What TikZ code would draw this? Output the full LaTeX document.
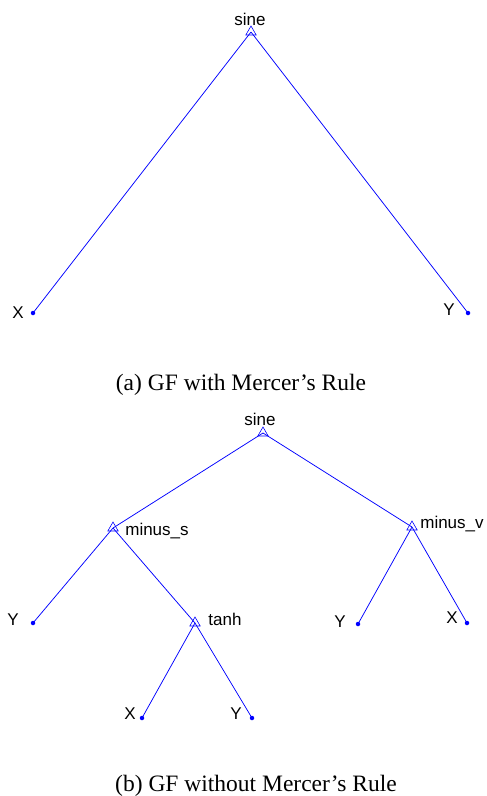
\documentclass[tikz,border=0pt]{standalone}
\usepackage{fontspec}
\setmainfont{Liberation Serif}
\setsansfont{Liberation Sans}
\usetikzlibrary{shapes.geometric}
\tikzset{
  op/.style={regular polygon, regular polygon sides=3, draw=blue, line width=0.6pt, inner sep=0pt, minimum size=12pt},
  leaf/.style={circle, fill=blue, inner sep=0pt, minimum size=4.5pt},
  branch/.style={blue, line width=0.75pt},
  lab/.style={font=\sffamily\fontsize{17}{17}\selectfont, inner sep=0pt},
  capt/.style={font=\fontsize{23.5}{24}\selectfont, inner sep=0pt}
}
\begin{document}
\begin{tikzpicture}[x=1pt, y=-1pt]
    \useasboundingbox (0,0) rectangle (487,796);
    % (a) GP tree with Mercer's rule
    \node[op] (a0) at (251,32) {};
    \node[leaf] (ax) at (33,313) {};
    \node[leaf] (ay) at (468,313) {};
    \foreach \u/\v in {a0/ax, a0/ay} {
        \draw[branch] (\u.center) -- (\v.center);
    }
    \node[lab] (a0lab) at (250,19) {sine};
    \node[lab] (axlab) at (18,313) {X};
    \node[lab] (aylab) at (449,310) {Y};
    \node[capt] (capa) at (241,385) {(a) GF with Mercer's Rule};
    % (b) GP tree without Mercer's rule
    \node[op] (b0) at (263,433) {};
    \node[op] (bs) at (113,528) {};
    \node[op] (bv) at (412,527) {};
    \node[op] (bt) at (195,623) {};
    \node[leaf] (by1) at (33,623) {};
    \node[leaf] (by2) at (358,624) {};
    \node[leaf] (bx2) at (467,623) {};
    \node[leaf] (bx1) at (142,718) {};
    \node[leaf] (by3) at (252,718) {};
    \foreach \u/\v in {b0/bs, b0/bv, bs/by1, bs/bt, bt/bx1, bt/by3, bv/by2, bv/bx2} {
        \draw[branch] (\u.center) -- (\v.center);
    }
    \node[lab] (b0lab) at (260,419) {sine};
    \node[lab] (bslab) at (157,531) {minus\_s};
    \node[lab] (bvlab) at (452,524) {minus\_v};
    \node[lab] (btlab) at (225,619) {tanh};
    \node[lab] (by1lab) at (13,620) {Y};
    \node[lab] (by2lab) at (340,622) {Y};
    \node[lab] (bx2lab) at (452,618) {X};
    \node[lab] (bx1lab) at (130,714) {X};
    \node[lab] (by3lab) at (236,714) {Y};
    \node[capt] (capb) at (256,786) {(b) GF without Mercer's Rule};
\end{tikzpicture}
\end{document}
